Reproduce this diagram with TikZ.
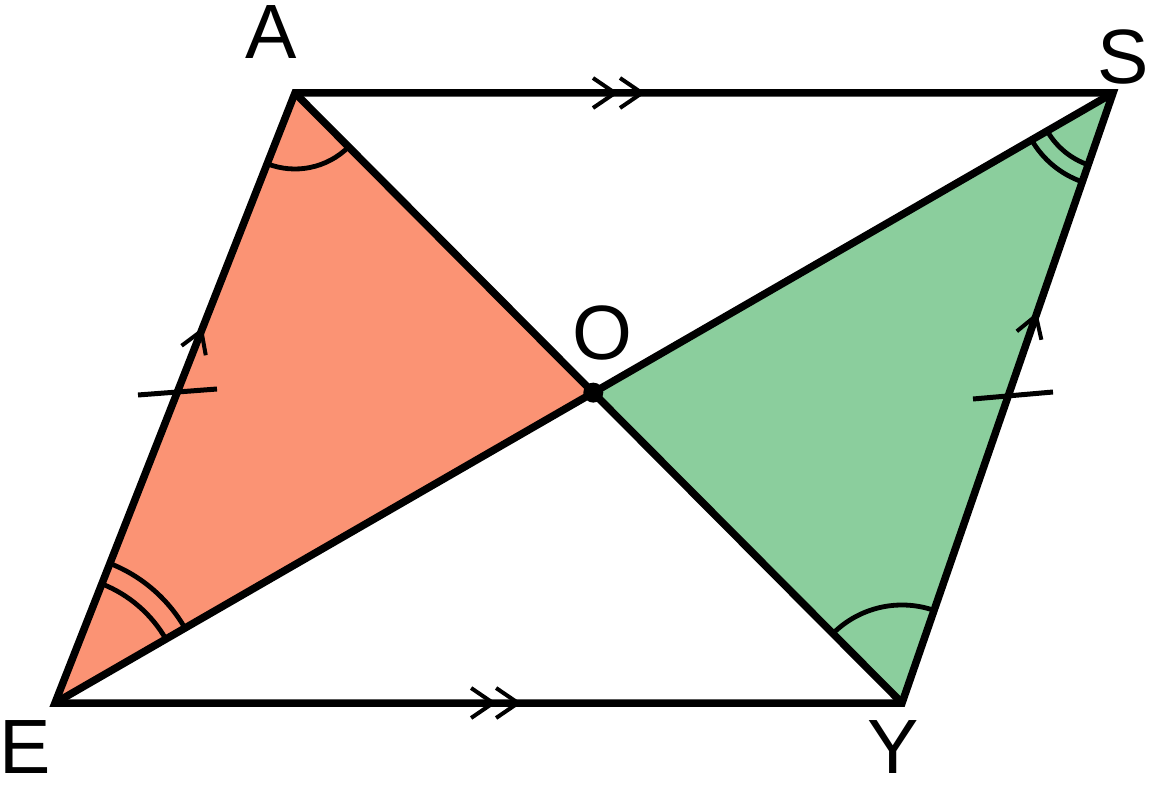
\documentclass[tikz,border=0pt]{standalone}
\usepackage{fontspec}
\setmainfont{Liberation Sans}
\usetikzlibrary{angles,decorations.markings,calc}
\definecolor{salmon}{RGB}{251,147,116}
\definecolor{mint}{RGB}{139,206,157}
\begin{document}
\begin{tikzpicture}[x=1pt,y=1pt,
  edge/.style={line width=7.5pt, line join=miter},
  markarc/.style={draw, line width=4.8pt},
  chev/.style={line width=4pt},
  lbl/.style={font=\fontsize{77}{80}\selectfont, inner sep=0pt}]
\useasboundingbox (0,0) rectangle (1156,788);
\coordinate (A) at (295,695);
\coordinate (S) at (1113,695);
\coordinate (E) at (55,85);
\coordinate (Y) at (902,85);
\coordinate (O) at (intersection of A--Y and E--S);
% fills
\fill[salmon] (A) -- (O) -- (E) -- cycle;
\fill[mint] (S) -- (O) -- (Y) -- cycle;
% angle marks
\pic[markarc, angle radius=76pt] {angle = E--A--O};
\pic[markarc, angle radius=76pt] {angle = O--S--Y};
\pic[markarc, angle radius=94pt] {angle = O--S--Y};
\pic[markarc, angle radius=128pt] {angle = O--E--A};
\pic[markarc, angle radius=150pt] {angle = O--E--A};
\pic[markarc, angle radius=98pt] {angle = S--Y--O};
% outline and diagonals
\draw[edge] (A) -- (S) -- (Y) -- (E) -- cycle;
\draw[edge] (A) -- (Y);
\draw[edge] (E) -- (S);
% parallel marks
\path[decoration={markings, mark=at position 0.4077 with {\draw[chev] (-35.5pt,15pt) -- (-13.5pt,0pt) -- (-35.5pt,-15pt) (-8.5pt,15pt) -- (13.5pt,0pt) -- (-8.5pt,-15pt);}}, decorate] (A) -- (S);
\path[decoration={markings, mark=at position 0.532 with {\draw[chev] (-34.5pt,15pt) -- (-12.5pt,0pt) -- (-34.5pt,-15pt) (-9.5pt,15pt) -- (12.5pt,0pt) -- (-9.5pt,-15pt);}}, decorate] (E) -- (Y);
\path[decoration={markings, mark=at position 0.61 with {\draw[chev] (-21pt,13pt) -- (0pt,0pt) -- (-21pt,-13pt);}}, decorate] (E) -- (A);
\path[decoration={markings, mark=at position 0.635 with {\draw[chev] (-21pt,13pt) -- (0pt,0pt) -- (-21pt,-13pt);}}, decorate] (Y) -- (S);
% equal-length ticks
\coordinate (t1a) at (138,393);
\coordinate (t1b) at (217,399);
\coordinate (t2a) at (973,389);
\coordinate (t2b) at (1053,396);
\draw[line width=5pt] (t1a) -- (t1b);
\draw[line width=5pt] (t2a) -- (t2b);
% centre point
\fill (O) circle (10pt);
% labels
\node[lbl] (lA) at (271,756) {A};
\node[lbl] (lS) at (1123,731) {S};
\node[lbl] (lE) at (25,41) {E};
\node[lbl] (lY) at (893,41) {Y};
\node[lbl] (lO) at (602,455) {O};
\end{tikzpicture}
\end{document}
